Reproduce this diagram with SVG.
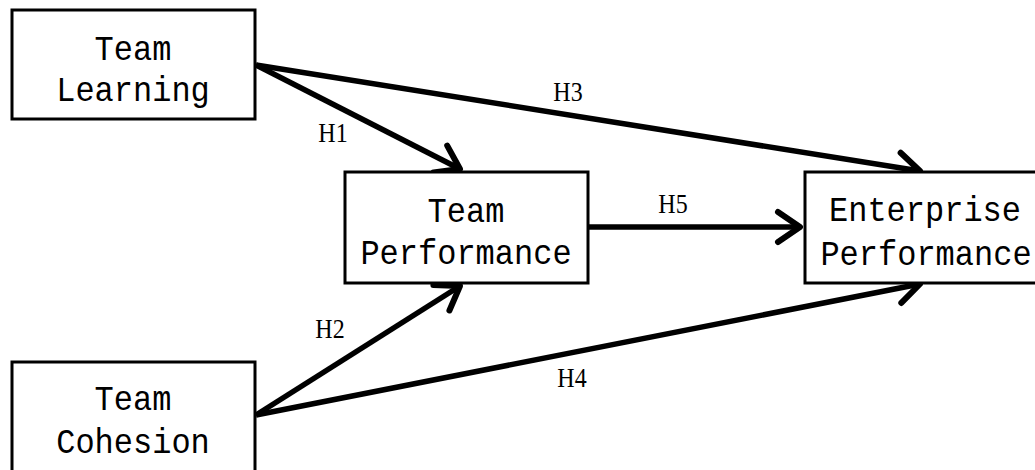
<svg xmlns="http://www.w3.org/2000/svg" width="1035" height="470" viewBox="0 0 1035 470">
<style>
.box{fill:#fff;stroke:#000;stroke-width:3}
.nt{font-family:"Liberation Mono","DejaVu Sans Mono",monospace;font-size:32px;fill:#000;text-anchor:middle}
.lbl{font-family:"Liberation Serif","DejaVu Serif",serif;font-size:24px;fill:#000;text-anchor:middle}
.edge{fill:none;stroke:#000;stroke-width:5.5;marker-end:url(#arr)}
</style>
<defs>
<marker id="arr" markerUnits="userSpaceOnUse" markerWidth="60" markerHeight="60" viewBox="-40 -30 60 60" refX="0" refY="0" orient="auto" overflow="visible">
<path d="M-22,-15 L0,0 L-22,15" fill="none" stroke="#000" stroke-width="6" stroke-linecap="round" stroke-linejoin="round"/>
</marker>
</defs>
<rect width="1035" height="470" fill="#fff"/>
<g id="connectors">
<path class="edge" d="M256,65 L460,169"/>
<path class="edge" d="M256,65 L920,171"/>
<path class="edge" d="M588,227 L800,227"/>
<path class="edge" d="M256,415 L460,286"/>
<path class="edge" d="M256,415 L920,284"/>
<text class="lbl" transform="translate(333,142) scale(1,1.15)">H1</text>
<text class="lbl" transform="translate(568,101) scale(1,1.15)">H3</text>
<text class="lbl" transform="translate(673,213) scale(1,1.15)">H5</text>
<text class="lbl" transform="translate(330,338) scale(1,1.15)">H2</text>
<text class="lbl" transform="translate(572,387) scale(1,1.15)">H4</text>
</g>
<g id="team-learning">
<rect class="box" x="12" y="10" width="243" height="109"/>
<text class="nt" transform="translate(133,59.5) scale(1,1.1)">Team</text>
<text class="nt" transform="translate(133,100.5) scale(1,1.1)">Learning</text>
</g>
<g id="team-performance">
<rect class="box" x="345" y="172" width="243" height="111"/>
<text class="nt" transform="translate(466,222) scale(1,1.1)">Team</text>
<text class="nt" transform="translate(466,264) scale(1,1.1)">Performance</text>
</g>
<g id="enterprise-performance">
<rect class="box" x="805" y="172" width="240" height="111"/>
<text class="nt" transform="translate(925,221) scale(1,1.1)">Enterprise</text>
<text class="nt" transform="translate(926,265) scale(1,1.1)">Performance</text>
</g>
<g id="team-cohesion">
<rect class="box" x="12" y="362" width="243" height="120"/>
<text class="nt" transform="translate(133,410) scale(1,1.1)">Team</text>
<text class="nt" transform="translate(133,453) scale(1,1.1)">Cohesion</text>
</g>
</svg>
